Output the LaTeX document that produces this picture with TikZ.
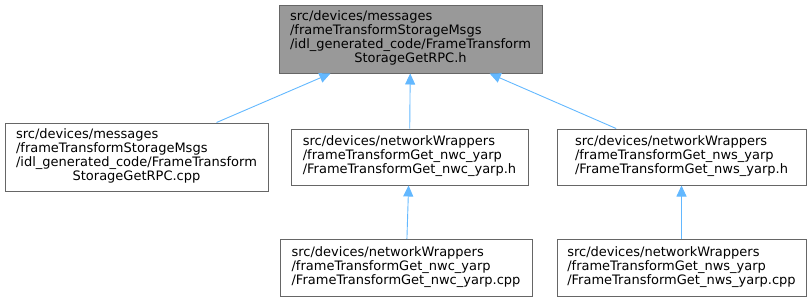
\documentclass[tikz,border=0pt]{standalone}
\usepackage{fontspec}
\setmainfont{DejaVu Sans}
\usetikzlibrary{arrows.meta}
\begin{document}
\begin{tikzpicture}[x=1pt,y=-1pt,
  file/.style={draw=boxline, line width=1pt, fill=white, inner sep=0pt,
    font=\fontsize{13}{14}\selectfont, align=left},
  current/.style={file, fill=curfill},
  dep/.style={draw=edgeblue, line width=0.9pt,
    -{Triangle[length=11pt,width=10pt]}}]
\definecolor{boxline}{HTML}{666666}
\definecolor{curfill}{HTML}{999999}
\definecolor{edgeblue}{HTML}{63B8FF}
\useasboundingbox (0,0) rectangle (811,300);

\node[current, minimum width=263pt, minimum height=68pt] (hdr) at (410.5,39)
  {\begin{tabular}{@{}l@{}}src/devices/messages\\/frameTransformStorageMsgs\\/idl\_generated\_code/FrameTransform\\\multicolumn{1}{@{}c@{}}{StorageGetRPC.h}\end{tabular}};

\node[file, minimum width=263pt, minimum height=68pt] (cpp) at (136.5,157)
  {\begin{tabular}{@{}l@{}}src/devices/messages\\/frameTransformStorageMsgs\\/idl\_generated\_code/FrameTransform\\\multicolumn{1}{@{}c@{}}{StorageGetRPC.cpp}\end{tabular}};

\node[file, minimum width=237pt, minimum height=56pt] (nwch) at (409.5,157)
  {\begin{tabular}{@{}l@{}}src/devices/networkWrappers\\/frameTransformGet\_nwc\_yarp\\/FrameTransformGet\_nwc\_yarp.h\end{tabular}};

\node[file, minimum width=249pt, minimum height=56pt] (nwsh) at (681.5,157)
  {\begin{tabular}{@{}l@{}}src/devices/networkWrappers\\/frameTransformGet\_nws\_yarp\\/FrameTransformGet\_nws\_yarp.h\end{tabular}};

\node[file, minimum width=252pt, minimum height=57pt] (nwccpp) at (406,268)
  {\begin{tabular}{@{}l@{}}src/devices/networkWrappers\\/frameTransformGet\_nwc\_yarp\\/FrameTransformGet\_nwc\_yarp.cpp\end{tabular}};

\node[file, minimum width=249pt, minimum height=57pt] (nwscpp) at (681.5,268)
  {\begin{tabular}{@{}l@{}}src/devices/networkWrappers\\/frameTransformGet\_nws\_yarp\\/FrameTransformGet\_nws\_yarp.cpp\end{tabular}};

\draw[dep] (cpp) -- (hdr);
\draw[dep] (nwch) -- (hdr);
\draw[dep] (nwsh) -- (hdr);
\draw[dep] (nwccpp) -- (nwch);
\draw[dep] (nwscpp) -- (nwsh);
\end{tikzpicture}
\end{document}
